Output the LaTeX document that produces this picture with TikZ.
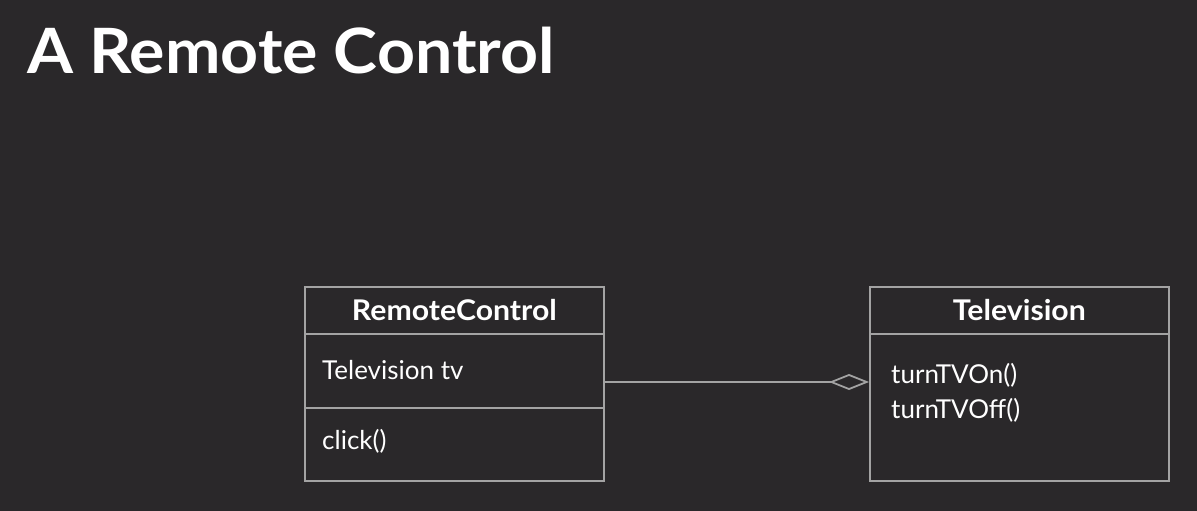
\documentclass[tikz,border=0pt]{standalone}
\usepackage{fontspec}
\setmainfont{Lato}
\newfontfamily\widebold[FakeStretch=1.06]{Lato}
\usetikzlibrary{arrows.meta}
\definecolor{bg}{HTML}{2A282A}
\definecolor{ln}{HTML}{A3A3A3}
\tikzset{
  comp/.style={draw=ln, line width=1.8pt, fill=bg, minimum width=299pt, inner sep=0pt, anchor=north west},
  hdr/.style={font=\widebold\fontsize{28.5}{34}\selectfont\bfseries, text=white},
  body/.style={font=\fontsize{26}{35}\selectfont, text=white, anchor=west, align=left},
  conn/.style={draw=ln, line width=1.8pt, -{Diamond[open, length=40pt, width=16pt, fill=bg]}}
}
\begin{document}
\begin{tikzpicture}[x=1pt,y=-1pt]
\fill[bg] (0,0) rectangle (1197,511);
\useasboundingbox (0,0) rectangle (1197,511);
\node[anchor=base west, text=white, font=\widebold\fontsize{62.5}{70}\selectfont\bfseries, inner sep=0pt] (title) at (27,74) {A Remote Control};
% RemoteControl
\node[comp, minimum height=47pt] (rch) at (304,286) {};
\node[comp, minimum height=74pt] (rca) at (304,333) {};
\node[comp, minimum height=73pt] (rcm) at (304,407) {};
\node[hdr] (rcht) at (rch.center) {RemoteControl};
\node[body, inner sep=0pt] (rcat) at (322,370) {Television tv};
\node[body, inner sep=0pt] (rcmt) at (322,441) {click()};
% Television
\node[comp, minimum height=47pt] (tvh) at (869,286) {};
\node[comp, minimum height=147pt] (tvb) at (869,333) {};
\node[hdr] (tvht) at (tvh.center) {Television};
\node[body, inner sep=0pt] (tvbt) at (891,393) {turnTVOn()\\turnTVOff()};
\coordinate (a) at (rca.east |- 0,382);
\coordinate (b) at (tvb.west |- 0,382);
\draw[conn] (a) -- (b);
\end{tikzpicture}
\end{document}
